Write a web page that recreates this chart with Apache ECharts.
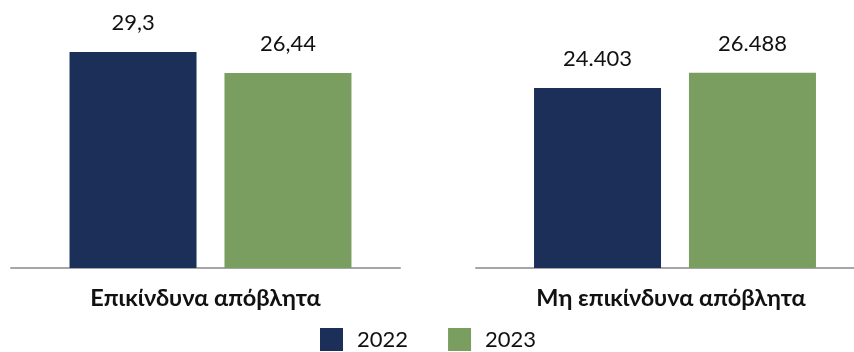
<!DOCTYPE html>
<html>
<head>
<meta charset="utf-8">
<script src="https://cdn.jsdelivr.net/npm/echarts@6/dist/echarts.min.js"></script>
<style>
  html, body { margin: 0; padding: 0; background: #ffffff; }
  #chart { width: 854px; height: 352px; }
</style>
</head>
<body>
<div id="chart"></div>
<script>
// Waste quantities per category and year
const categories = ['Επικίνδυνα απόβλητα', 'Μη επικίνδυνα απόβλητα'];
const years = ['2022', '2023'];
const values2022 = [29.3, 24.403];
const values2023 = [26.44, 26.488];
const labels2022 = ['29,3', '24.403'];
const labels2023 = ['26,44', '26.488'];

const colors = { '2022': '#1b2f59', '2023': '#7a9e60' };
const fontFamily = 'Lato, "Noto Sans", sans-serif';

const chart = echarts.init(document.getElementById('chart'), null, { renderer: 'canvas' });

// Each panel has a grid for its baseline + category label and a grid for its bars
const axisGrids = [
  { left: 11, width: 389, top: 10, height: 258 },
  { left: 476, right: 0, top: 10, height: 258 }
];
const labelPads = [[0, 0, 0, 0], [0, 0, 0, 12]];
const barGrids = [
  { left: 16, width: 389, top: 10, height: 258 },
  { left: 496, right: 0, top: 10, height: 258 }
];

const grid = [];
const xAxis = [];
const yAxis = [];
const series = [];

categories.forEach((c, i) => {
  const axisIdx = grid.length;
  grid.push(axisGrids[i]);
  xAxis.push({
    type: 'category',
    gridIndex: axisIdx,
    data: [c],
    axisTick: { show: false },
    axisLine: { lineStyle: { color: '#a6a6a6', width: 2 } },
    axisLabel: { color: '#111', fontSize: 23.5, fontWeight: 'bold', fontFamily, margin: 18, padding: labelPads[i] }
  });
  yAxis.push({ type: 'value', gridIndex: axisIdx, min: 0, max: 35, show: false, splitLine: { show: false } });

  const barIdx = grid.length;
  grid.push(barGrids[i]);
  xAxis.push({ type: 'category', gridIndex: barIdx, data: [c], show: false });
  yAxis.push({ type: 'value', gridIndex: barIdx, min: 0, max: 35, show: false, splitLine: { show: false } });

  [['2022', values2022, labels2022], ['2023', values2023, labels2023]].forEach(([yr, vals, labs]) => {
    series.push({
      name: yr,
      type: 'bar',
      xAxisIndex: barIdx,
      yAxisIndex: barIdx,
      data: [vals[i]],
      barWidth: 127,
      barGap: '22%',
      itemStyle: { color: colors[yr] },
      label: {
        show: true,
        position: 'top',
        distance: 18,
        formatter: () => labs[i],
        color: '#111',
        fontSize: 22,
        fontFamily
      }
    });
  });
});

chart.setOption({
  animation: false,
  grid,
  xAxis,
  yAxis,
  legend: {
    data: years,
    left: 320,
    top: 328,
    padding: 0,
    itemWidth: 23,
    itemHeight: 23,
    itemGap: 40,
    icon: 'rect',
    textStyle: { color: '#111', fontSize: 22, fontFamily, padding: [0, 0, 0, 9] }
  },
  series
});
</script>
</body>
</html>
